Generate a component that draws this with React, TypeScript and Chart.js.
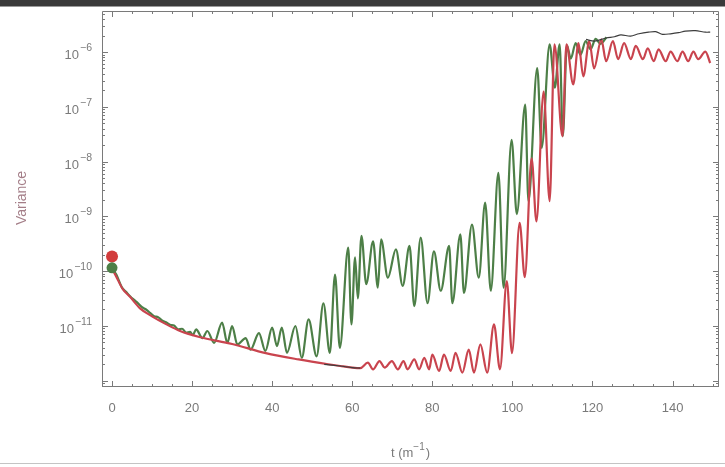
import React, { useEffect, useRef } from "react";
import { Chart, registerables } from "chart.js";

Chart.register(...registerables);

// ---------- data ----------
// red series: t and variance
const redT = [0, 1, 2.7, 4.5, 7, 10, 13.6, 17, 21.8, 30, 38.4, 46.6, 54, 57, 60, 62,
  63.9, 65.2, 66.8, 68.1, 69.9, 71.4, 72.8, 73.8, 75.5, 76.7, 78.0, 79.2, 80.0, 81.7,
  82.9, 84.6, 85.8, 87.5, 89.1, 90.4, 92.0, 93.7, 95.4, 96.9, 98.6, 99.9, 101.8, 103.1,
  104.8, 106.0, 107.8, 109.3, 110.5, 112.5, 113.5, 115.2, 116.5, 117.7, 119.2, 120.4,
  122.2, 123.4, 125.1, 126.4, 127.9, 129.6, 130.8, 132.6, 133.8, 135.3, 136.5, 138.3,
  139.5, 141.2, 142.5, 143.9, 145.2, 146.4, 148.2, 149.4];
const redV = [1.1e-10, 8.1e-11, 4.7e-11, 3.4e-11, 2.1e-11, 1.5e-11, 1.07e-11, 8.1e-12, 6.3e-12,
  4.7e-12, 3.2e-12, 2.45e-12, 2.0e-12, 1.86e-12, 1.74e-12, 1.7e-12,
  2.14e-12, 1.62e-12, 2.29e-12, 1.74e-12, 2.29e-12, 1.62e-12, 2.29e-12, 1.62e-12, 2.45e-12,
  1.62e-12, 2.63e-12, 1.62e-12, 3.0e-12, 1.51e-12, 3.0e-12, 1.51e-12, 3.24e-12, 1.41e-12,
  3.7e-12, 1.41e-12, 4.6e-12, 1.41e-12, 1.07e-11, 1.62e-12, 6.6e-11, 3.2e-12, 7.6e-10,
  7.8e-11, 1.15e-8, 8.1e-10, 1.9e-7, 1.9e-9, 1.38e-6, 2.9e-8, 1.38e-6, 2.57e-7, 1.45e-6,
  3.6e-7, 1.58e-6, 5.0e-7, 1.7e-6, 6.8e-7, 1.58e-6, 7.4e-7, 1.45e-6, 7.4e-7, 1.29e-6,
  7.4e-7, 1.17e-6, 6.8e-7, 1.12e-6, 6.8e-7, 1.02e-6, 6.8e-7, 1.02e-6, 6.8e-7, 1.02e-6,
  7.4e-7, 1.02e-6, 6.3e-7];

// green series
const greenT = [0, 1, 2.5, 3.5, 4.5, 5.5, 6.5, 7.5, 8.5, 9.5, 10.5, 11.5, 12.5, 13.5, 14.5,
  15.5, 16.5, 17.5, 18.5, 19.5, 20.2, 21, 22.6, 23.8, 25.5, 27.5, 28.8, 30, 31.3, 33.4,
  34.6, 36.7, 38.3, 40, 41.2, 42.4, 43.7, 45.8, 47.4, 49.1, 51.1, 52.8, 54.4, 55.7, 56.9,
  59.0, 59.8, 60.7, 61.4, 62.3, 63.5, 65.2, 66.4, 67.2, 68.9, 70.9, 72.6, 74.3, 75.5,
  77.1, 78.8, 80.4, 82.1, 84.2, 85.0, 87.0, 87.9, 89.9, 91.6, 93.2, 94.6, 96.5, 97.8,
  99.8, 101.1, 103.2, 104.0, 106.2, 107.3, 109.3, 110.6, 111.8, 112.6, 113.6, 114.6,
  115.8, 117.0, 118.3, 119.5, 120.8, 122.0, 123.5];
const greenV = [1.1e-10, 8.9e-11, 5.0e-11, 4.2e-11, 3.5e-11, 3.0e-11, 2.6e-11, 2.2e-11, 2.0e-11,
  1.74e-11, 1.51e-11, 1.45e-11, 1.26e-11, 1.17e-11, 1.05e-11, 1.02e-11, 8.7e-12, 8.9e-12,
  7.6e-12, 7.8e-12, 6.8e-12, 8.7e-12, 6.0e-12, 8.1e-12, 4.9e-12, 1.15e-11, 4.9e-12, 1.0e-11,
  4.6e-12, 6.0e-12, 3.7e-12, 7.4e-12, 3.5e-12, 9.3e-12, 4.3e-12, 9.3e-12, 3.24e-12, 1.0e-11,
  2.63e-12, 1.32e-11, 2.8e-12, 2.6e-11, 3.24e-12, 8.7e-11, 4.0e-12, 2.7e-10, 1.07e-11,
  1.78e-10, 3.2e-11, 4.4e-10, 5.8e-11, 3.5e-10, 5.0e-11, 3.8e-10, 7.6e-11, 2.5e-10, 5.4e-11,
  2.9e-10, 2.3e-11, 4.1e-10, 2.6e-11, 2.3e-10, 4.4e-11, 2.9e-10, 2.6e-11, 4.7e-10, 4.0e-11,
  7.1e-10, 7.6e-11, 1.78e-9, 4.4e-11, 6.2e-9, 5.0e-11, 2.5e-8, 1.1e-9, 1.1e-7, 1.9e-9,
  5.1e-7, 1.78e-8, 1.38e-6, 2.24e-7, 1.38e-6, 2.9e-8, 1.32e-6, 7.6e-7, 1.45e-6, 8.9e-7,
  1.58e-6, 1.12e-6, 1.74e-6, 1.41e-6, 1.86e-6];

// thin dark series (two pieces, null = gap)
const blackT = [53, 57, 60, 62, 62.5, 118.4, 120.5, 123.4, 125.5, 127.1, 129.5, 131.6, 134,
  135.8, 137.5, 139.5, 141.5, 143.2, 145.7, 148.2, 149.4];
const blackV = [2.0e-12, 1.86e-12, 1.74e-12, 1.7e-12, null, 1.7e-6, 1.58e-6, 1.8e-6, 1.9e-6,
  2.05e-6, 1.95e-6, 2.15e-6, 2.3e-6, 2.35e-6, 2.1e-6, 2.15e-6, 2.25e-6, 2.4e-6, 2.45e-6,
  2.3e-6, 2.3e-6];

const redMarkerT = [0];
const redMarkerV = [1.85e-10];
const greenMarkerT = [0];
const greenMarkerV = [1.15e-10];

const xTickValues = [0, 20, 40, 60, 80, 100, 120, 140];
const xMinorStep = 5;
const yTickValues = [1e-11, 1e-10, 1e-9, 1e-8, 1e-7, 1e-6];
const yTickExponents = ["\u221211", "\u221210", "\u22129", "\u22128", "\u22127", "\u22126"];
const yTitle = "Variance";
const xTitleBase = "t (m";
const xTitleExp = "\u22121";
const xTitleEnd = ")";

const X_MIN = -2.5;
const X_MAX = 151.6;
const Y_MIN = 7.7e-13;
const Y_MAX = 5.6e-6;

const RED = "#c9444e";
const GREEN = "#4d7f47";
const DARK = "#3d3d3d";
const FRAME = "#7a7a7a";
const LABEL = "#7a7a7a";
const FONT = "'Liberation Sans', Arial, sans-serif";

const zip = (t: number[], v: (number | null)[]) => t.map((x, i) => ({ x, y: v[i] }));

const framePlugin = {
  id: "frameTicks",
  afterDraw(chart: any) {
    const { ctx, chartArea: a, scales } = chart;
    const xs = scales.x;
    const ys = scales.y;
    ctx.save();
    ctx.strokeStyle = FRAME;
    ctx.lineWidth = 1;
    ctx.beginPath();
    ctx.rect(a.left + 0.5, a.top + 0.5, a.right - a.left - 1, a.bottom - a.top - 1);
    ctx.stroke();
    ctx.beginPath();
    for (let t = 0; t <= X_MAX; t += xMinorStep) {
      const px = Math.round(xs.getPixelForValue(t)) + 0.5;
      const len = xTickValues.includes(t) ? 6 : 3;
      ctx.moveTo(px, a.bottom);
      ctx.lineTo(px, a.bottom - len);
      ctx.moveTo(px, a.top);
      ctx.lineTo(px, a.top + len);
    }
    for (let e = -13; e <= -5; e++) {
      for (let k = 1; k <= 9; k++) {
        const v = k * Math.pow(10, e);
        if (v < Y_MIN || v > Y_MAX) continue;
        const py = Math.round(ys.getPixelForValue(v)) + 0.5;
        const len = k === 1 ? 6 : 3;
        ctx.moveTo(a.left, py);
        ctx.lineTo(a.left + len, py);
        ctx.moveTo(a.right, py);
        ctx.lineTo(a.right - len, py);
      }
    }
    ctx.stroke();

    // y tick labels with superscripts
    ctx.fillStyle = LABEL;
    ctx.textBaseline = "alphabetic";
    ctx.textAlign = "left";
    const rightEdge = a.left - 10;
    yTickValues.forEach((v, i) => {
      const py = ys.getPixelForValue(v);
      ctx.font = `10.5px ${FONT}`;
      const ew = ctx.measureText(yTickExponents[i]).width;
      ctx.font = `13px ${FONT}`;
      const bw = ctx.measureText("10").width;
      const x0 = rightEdge - ew - bw - 1;
      ctx.fillText("10", x0, py + 7);
      ctx.font = `10.5px ${FONT}`;
      ctx.fillText(yTickExponents[i], x0 + bw + 1, py - 1);
    });

    // y title
    ctx.save();
    ctx.translate(22, 198);
    ctx.rotate(-Math.PI / 2);
    ctx.font = `14px ${FONT}`;
    ctx.fillStyle = "#a47e88";
    ctx.textAlign = "center";
    ctx.textBaseline = "middle";
    ctx.fillText(yTitle, 0, 0);
    ctx.restore();

    // x title with superscript
    ctx.font = `13px ${FONT}`;
    const w1 = ctx.measureText(xTitleBase).width;
    const w3 = ctx.measureText(xTitleEnd).width;
    ctx.font = `10px ${FONT}`;
    const w2 = ctx.measureText(xTitleExp).width;
    const total = w1 + w2 + w3 + 1;
    const cx = (a.left + a.right) / 2;
    const sx = cx - total / 2;
    const by = 457;
    ctx.fillStyle = LABEL;
    ctx.textAlign = "left";
    ctx.font = `13px ${FONT}`;
    ctx.fillText(xTitleBase, sx, by);
    ctx.font = `10px ${FONT}`;
    ctx.fillText(xTitleExp, sx + w1, by - 7);
    ctx.font = `13px ${FONT}`;
    ctx.fillText(xTitleEnd, sx + w1 + w2 + 1, by);
    ctx.restore();
  },
};

export default function App() {
  const ref = useRef<HTMLCanvasElement | null>(null);

  useEffect(() => {
    document.body.style.margin = "0";
    const canvas = ref.current;
    if (!canvas) return;
    const chart = new Chart(canvas, {
      type: "line",
      data: {
        datasets: [
          {
            label: "thin",
            data: zip(blackT, blackV),
            borderColor: DARK,
            borderWidth: 1.2,
            pointRadius: 0,
            tension: 0.3,
            spanGaps: false,
            order: 1,
          },
          {
            label: "red",
            data: zip(redT, redV),
            borderColor: RED,
            borderWidth: 2.2,
            pointRadius: 0,
            cubicInterpolationMode: "monotone",
            order: 2,
          },
          {
            label: "green",
            data: zip(greenT, greenV),
            borderColor: GREEN,
            borderWidth: 2.2,
            pointRadius: 0,
            cubicInterpolationMode: "monotone",
            order: 3,
          },
          {
            label: "greenMarker",
            data: zip(greenMarkerT, greenMarkerV),
            showLine: false,
            pointRadius: 5.5,
            pointBackgroundColor: GREEN,
            pointBorderWidth: 0,
            borderColor: GREEN,
            order: -2,
          },
          {
            label: "redMarker",
            data: zip(redMarkerT, redMarkerV),
            showLine: false,
            pointRadius: 6,
            pointBackgroundColor: "#d23c3c",
            pointBorderWidth: 0,
            borderColor: "#d23c3c",
            order: -1,
          },
        ],
      },
      options: {
        responsive: false,
        animation: false,
        layout: { padding: { left: 0, right: 2, top: 11, bottom: 0 } },
        plugins: { legend: { display: false }, tooltip: { enabled: false } },
        scales: {
          x: {
            type: "linear",
            min: X_MIN,
            max: X_MAX,
            grid: { display: false, drawTicks: false },
            border: { display: false },
            afterBuildTicks: (s: any) => {
              s.ticks = xTickValues.map((v) => ({ value: v }));
            },
            afterFit: (s: any) => {
              s.height = 80;
            },
            ticks: {
              autoSkip: false,
              maxRotation: 0,
              color: LABEL,
              padding: 14,
              font: { family: FONT, size: 13 },
              callback: (v: any) => String(v),
            },
          },
          y: {
            type: "logarithmic",
            min: Y_MIN,
            max: Y_MAX,
            grid: { display: false, drawTicks: false },
            border: { display: false },
            afterBuildTicks: (s: any) => {
              s.ticks = yTickValues.map((v) => ({ value: v }));
            },
            afterFit: (s: any) => {
              s.width = 102;
            },
            ticks: { display: false },
          },
        },
      },
      plugins: [framePlugin],
    });
    return () => chart.destroy();
  }, []);

  return (
    <div style={{ position: "fixed", left: 0, top: 0, width: 725, height: 467, background: "#fff", overflow: "hidden" }}>
      <canvas ref={ref} width={725} height={467} style={{ display: "block", width: 725, height: 467 }} />
      <div style={{ position: "absolute", left: 0, top: 0, width: 725, height: 6, background: "#3a3a3a" }} />
      <div style={{ position: "absolute", left: 0, top: 6, width: 725, height: 1, background: "#9a9a9a" }} />
      <div style={{ position: "absolute", left: 0, top: 463, width: 725, height: 1, background: "#c4c4c4" }} />
    </div>
  );
}
